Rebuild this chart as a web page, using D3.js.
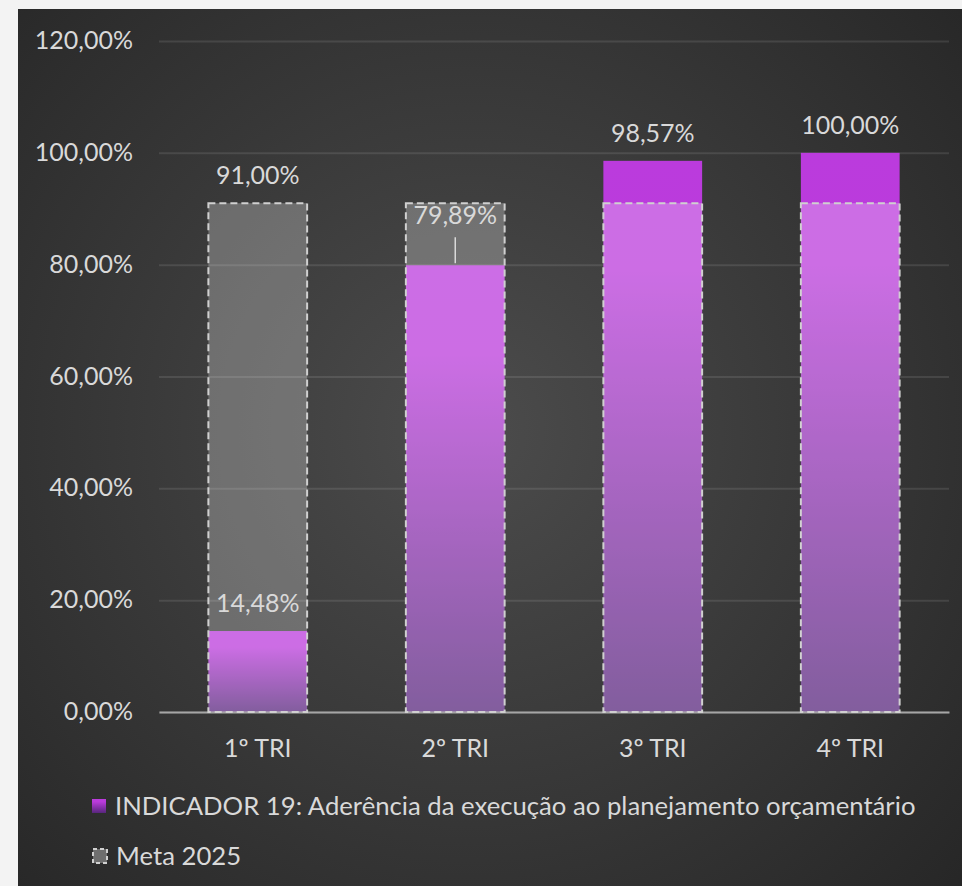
<!DOCTYPE html>
<html>
<head>
<meta charset="utf-8">
<script src="https://cdn.jsdelivr.net/npm/d3@7"></script>
<style>
  body { margin: 0; background: #f3f3f3; }
  svg { display: block; font-family: Lato, "Open Sans", sans-serif; }
</style>
</head>
<body>
<div id="chart"></div>
<script>
// Data
const categories = ["1º TRI", "2º TRI", "3º TRI", "4º TRI"];
const indicador = [0.1448, 0.7989, 0.9857, 1.0];
const meta = [0.91, 0.91, 0.91, 0.91];
const yTicks = [0, 0.2, 0.4, 0.6, 0.8, 1.0, 1.2];
const seriesNames = ["INDICADOR 19: Aderência da execução ao planejamento orçamentário", "Meta 2025"];

const width = 962;
const height = 886;
const margin = { top: 41, right: 13, bottom: 174, left: 159 };
const fmt = v => d3.format(".2f")(v * 100).replace(".", ",") + "%";

const svg = d3.select("#chart")
    .append("svg")
    .attr("width", width)
    .attr("height", height)
    .attr("viewBox", [0, 0, width, height]);

const defs = svg.append("defs");

// dark panel background
const bg = defs.append("radialGradient")
    .attr("id", "bg")
    .attr("gradientUnits", "userSpaceOnUse")
    .attr("cx", 470).attr("cy", 430).attr("r", 680);
bg.append("stop").attr("offset", 0).attr("stop-color", "#4c4c4c");
bg.append("stop").attr("offset", 1).attr("stop-color", "#262626");

// purple fill, per bar
const purple = defs.append("linearGradient")
    .attr("id", "purple")
    .attr("x1", 0).attr("y1", 0).attr("x2", 0).attr("y2", 1);
purple.append("stop").attr("offset", 0).attr("stop-color", "#bb3bdd");
purple.append("stop").attr("offset", 0.2).attr("stop-color", "#ba3bdb");
purple.append("stop").attr("offset", 1).attr("stop-color", "#57267c");

svg.append("rect")
    .attr("x", 18).attr("y", 9)
    .attr("width", width - 18).attr("height", height - 9)
    .attr("fill", "url(#bg)");

// Scales
const x = d3.scaleBand()
    .domain(categories)
    .range([margin.left, width - margin.right])
    .paddingInner(0.5)
    .paddingOuter(0.25);

const y = d3.scaleLinear()
    .domain([0, 1.2])
    .range([height - margin.bottom, margin.top]);

// Gridlines + y labels
const yAxis = d3.axisLeft(y)
    .tickValues(yTicks)
    .tickSize(-(width - margin.right - margin.left))
    .tickPadding(26)
    .tickFormat(fmt);

svg.append("g")
    .attr("transform", `translate(${margin.left},0)`)
    .call(yAxis)
    .call(g => g.select(".domain").remove())
    .call(g => g.selectAll(".tick line").attr("stroke", "rgba(255,255,255,0.1)").attr("stroke-width", 2))
    .call(g => g.selectAll(".tick text")
        .attr("fill", "#d9d9d9")
        .attr("font-size", 25)
        .attr("font-family", "Lato, 'Open Sans', sans-serif")
        .attr("dy", "0.3em"));

// Indicator bars
svg.append("g")
    .selectAll("rect")
    .data(indicador)
    .join("rect")
    .attr("x", (d, i) => x(categories[i]))
    .attr("y", d => y(d))
    .attr("width", x.bandwidth())
    .attr("height", d => y(0) - y(d))
    .attr("fill", "url(#purple)");

// X axis line
svg.append("g")
    .attr("transform", `translate(0,${y(0)})`)
    .call(d3.axisBottom(x).tickSize(0).tickPadding(27))
    .call(g => g.select(".domain").attr("stroke", "#a6a6a6").attr("stroke-width", 2))
    .call(g => g.selectAll(".tick text")
        .attr("fill", "#d9d9d9")
        .attr("font-size", 25)
        .attr("font-family", "Lato, 'Open Sans', sans-serif"));

// Meta bars (translucent, dashed outline) on top
svg.append("g")
    .selectAll("rect")
    .data(meta)
    .join("rect")
    .attr("x", (d, i) => x(categories[i]))
    .attr("y", d => y(d))
    .attr("width", x.bandwidth())
    .attr("height", d => y(0) - y(d))
    .attr("fill", "rgba(255,255,255,0.26)")
    .attr("stroke", "#d0d0d0")
    .attr("stroke-width", 2)
    .attr("stroke-dasharray", "7,4");

// Data labels
const labels = svg.append("g")
    .attr("fill", "#d9d9d9")
    .attr("font-size", 25)
    .attr("text-anchor", "middle");

// offset for 2º TRI label, moved up with a leader line
const labelShift = [0, 22, 0, 0];

labels.selectAll("text.ind")
    .data(indicador)
    .join("text")
    .attr("class", "ind")
    .attr("x", (d, i) => x(categories[i]) + x.bandwidth() / 2)
    .attr("y", (d, i) => y(d) - 28 - labelShift[i])
    .attr("dy", "0.35em")
    .text(d => fmt(d));

labels.selectAll("line")
    .data(d3.range(indicador.length).filter(i => labelShift[i] > 0))
    .join("line")
    .attr("x1", i => x(categories[i]) + x.bandwidth() / 2)
    .attr("x2", i => x(categories[i]) + x.bandwidth() / 2)
    .attr("y1", i => y(indicador[i]) - 28 - labelShift[i] + 22)
    .attr("y2", i => y(indicador[i]) - 2)
    .attr("stroke", "#d9d9d9")
    .attr("stroke-width", 1.5);

// meta label only on first bar
labels.append("text")
    .attr("x", x(categories[0]) + x.bandwidth() / 2)
    .attr("y", y(meta[0]) - 28)
    .attr("dy", "0.35em")
    .text(fmt(meta[0]));

// Legend
const legend = svg.append("g")
    .attr("transform", "translate(92,806)");

const items = legend.selectAll("g")
    .data(seriesNames)
    .join("g")
    .attr("transform", (d, i) => `translate(0,${i * 50})`);

items.append("rect")
    .attr("x", (d, i) => i === 0 ? 0 : 1)
    .attr("y", -7)
    .attr("width", 14)
    .attr("height", 14)
    .attr("fill", (d, i) => i === 0 ? "url(#purple)" : "#6e6e6e")
    .attr("stroke", (d, i) => i === 0 ? "none" : "#d0d0d0")
    .attr("stroke-width", 2)
    .attr("stroke-dasharray", "4,3");

items.append("text")
    .attr("x", (d, i) => i === 0 ? 23 : 24)
    .attr("dy", "0.35em")
    .attr("fill", "#d9d9d9")
    .attr("font-size", 25.7)
    .text(d => d);
</script>
</body>
</html>
